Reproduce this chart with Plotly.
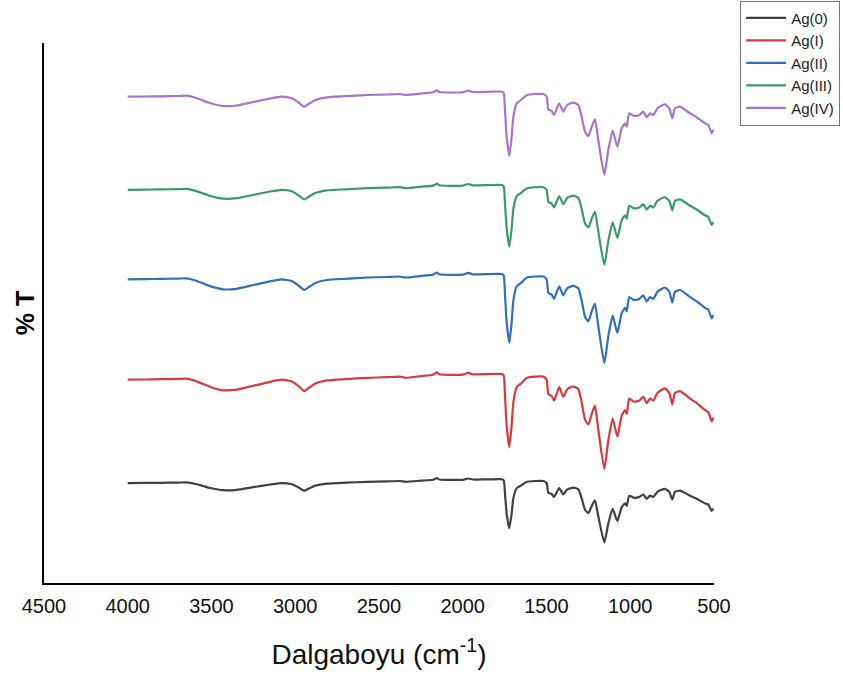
import plotly.graph_objects as go

wavenumber = [4000, 3900, 3800, 3700, 3650, 3600, 3550, 3500, 3430, 3350,
              3250, 3150, 3080, 3020, 2980, 2946, 2920, 2880, 2810, 2700,
              2570, 2450, 2375, 2340, 2250, 2177, 2155, 2140, 2000, 1967,
              1940, 1850, 1766, 1755, 1748, 1738, 1722, 1708, 1698, 1678,
              1652, 1616, 1519, 1499, 1489, 1469, 1455, 1424, 1400, 1376,
              1340, 1310, 1290, 1270, 1250, 1230, 1211, 1191, 1155, 1131,
              1105, 1077, 1051, 1031, 1021, 1006, 978, 946, 922, 902,
              882, 862, 838, 794, 767, 749, 733, 703, 643, 603,
              554, 534, 514, 505]

ag0 = [99.9, 100.1, 100.2, 100.4, 100.7, 99.3, 97.0, 94.7, 92.8, 93.2,
       95.9, 98.5, 99.9, 98.7, 95.5, 92.3, 94.4, 97.4, 99.4, 100.3,
       101.2, 101.6, 102.0, 101.2, 102.3, 103.2, 104.8, 103.5, 103.2, 104.5,
       103.5, 103.6, 103.7, 102.5, 89.8, 69.5, 54.8, 69.5, 84.7, 94.9,
       97.4, 101.2, 102.0, 99.9, 90.3, 89.0, 86.0, 94.9, 88.5, 93.6,
       95.3, 93.6, 84.7, 73.3, 70.0, 77.1, 82.7, 67.0, 40.4, 59.4,
       74.1, 61.9, 75.9, 79.7, 77.1, 87.3, 85.2, 86.0, 88.5, 84.2,
       87.3, 86.0, 91.1, 94.1, 91.1, 83.5, 91.1, 92.3, 87.3, 84.2,
       79.7, 78.4, 72.1, 74.6]

ag1 = [203.3, 203.5, 203.8, 204.1, 204.4, 202.4, 199.0, 195.5, 192.7, 193.3,
       197.3, 201.2, 203.3, 201.5, 196.7, 191.9, 195.0, 199.5, 202.6, 203.9,
       205.2, 205.8, 206.4, 205.2, 206.9, 208.3, 210.6, 208.7, 208.3, 210.1,
       208.7, 208.9, 209.0, 207.2, 188.1, 157.7, 135.7, 157.7, 180.5, 195.8,
       199.5, 205.2, 206.4, 203.3, 188.9, 187.0, 182.4, 195.8, 186.2, 193.8,
       196.5, 193.8, 180.5, 163.4, 158.5, 169.1, 177.5, 153.9, 114.0, 142.5,
       164.5, 146.3, 167.3, 173.0, 169.1, 184.4, 181.3, 182.4, 186.2, 179.8,
       184.4, 182.4, 190.1, 194.6, 190.1, 178.7, 190.1, 191.9, 184.4, 179.8,
       173.0, 171.0, 161.6, 165.3]

ag2 = [303.7, 303.9, 304.1, 304.4, 304.7, 302.8, 299.6, 296.4, 293.7, 294.2,
       298.0, 301.7, 303.7, 301.9, 297.4, 293.0, 295.8, 300.1, 303.0, 304.2,
       305.5, 306.0, 306.5, 305.5, 307.1, 308.4, 310.5, 308.7, 308.4, 310.1,
       308.7, 308.9, 309.0, 307.3, 289.4, 260.9, 240.2, 260.8, 282.3, 296.6,
       300.1, 305.5, 306.5, 303.7, 290.2, 288.4, 284.1, 296.6, 287.6, 294.8,
       297.2, 294.8, 282.3, 266.2, 261.6, 271.6, 279.5, 257.3, 219.9, 246.6,
       267.3, 250.2, 269.8, 275.2, 271.6, 285.9, 283.0, 284.1, 287.6, 281.6,
       285.9, 284.1, 291.2, 295.5, 291.2, 280.5, 291.2, 293.0, 285.9, 281.6,
       275.2, 273.4, 264.5, 268.0]

ag3 = [393.2, 393.4, 393.6, 393.9, 394.2, 392.4, 389.6, 386.7, 384.3, 384.8,
       388.1, 391.5, 393.2, 391.7, 387.6, 383.6, 386.2, 390.0, 392.6, 393.7,
       394.8, 395.3, 395.8, 394.8, 396.3, 397.4, 399.3, 397.7, 397.4, 399.0,
       397.7, 397.9, 398.0, 396.5, 380.4, 354.8, 336.3, 354.8, 374.0, 386.9,
       390.0, 394.8, 395.8, 393.2, 381.1, 379.5, 375.6, 386.9, 378.8, 385.2,
       387.4, 385.2, 374.0, 359.6, 355.5, 364.4, 371.5, 351.6, 318.0, 342.0,
       360.6, 345.2, 362.9, 367.7, 364.4, 377.3, 374.7, 375.6, 378.8, 373.4,
       377.3, 375.6, 382.1, 385.9, 382.1, 372.5, 382.1, 383.6, 377.3, 373.4,
       367.7, 366.0, 358.1, 361.2]

ag4 = [486.3, 486.5, 486.7, 487.0, 487.3, 485.5, 482.5, 479.5, 477.0, 477.5,
       481.0, 484.5, 486.3, 484.7, 480.5, 476.3, 479.0, 483.0, 485.7, 486.8,
       488.0, 488.5, 489.0, 488.0, 489.5, 490.7, 492.7, 491.0, 490.7, 492.3,
       491.0, 491.2, 491.3, 489.7, 473.0, 446.3, 427.0, 446.3, 466.3, 479.7,
       483.0, 488.0, 489.0, 486.3, 473.7, 472.0, 468.0, 479.7, 471.3, 478.0,
       480.3, 478.0, 466.3, 451.3, 447.0, 456.3, 463.7, 443.0, 408.0, 433.0,
       452.3, 436.3, 454.7, 459.7, 456.3, 469.7, 467.0, 468.0, 471.3, 465.7,
       469.7, 468.0, 474.7, 478.7, 474.7, 464.7, 474.7, 476.3, 469.7, 465.7,
       459.7, 458.0, 449.7, 453.0]

series_names = ["Ag(0)", "Ag(I)", "Ag(II)", "Ag(III)", "Ag(IV)"]
series_values = [ag0, ag1, ag2, ag3, ag4]
series_colors = ["#404040", "#d63a3e", "#2f6fbd", "#3a9a68", "#a575cc"]

x_ticks = [4500, 4000, 3500, 3000, 2500, 2000, 1500, 1000, 500]

fig = go.Figure()
for name, vals, col in zip(series_names, series_values, series_colors):
    fig.add_trace(go.Scatter(x=wavenumber, y=vals, mode="lines", name=name,
                             line=dict(color=col, width=2.2, shape="spline",
                                       smoothing=0.5)))

fig.update_layout(
    width=843, height=680,
    margin=dict(l=44, r=129, t=43, b=97, autoexpand=False),
    paper_bgcolor="white", plot_bgcolor="white",
    font=dict(family="Liberation Sans, Arial, sans-serif", color="black"),
    showlegend=True,
    legend=dict(x=1.039, y=1.0785, xanchor="left", yanchor="top",
                bordercolor="#777777", borderwidth=1,
                font=dict(size=15, color="#222222"),
                itemwidth=40, tracegroupgap=0,
                bgcolor="white"),
)
fig.update_xaxes(range=[4500, 500], tickvals=x_ticks,
                 ticktext=[str(t) for t in x_ticks],
                 showline=True, linecolor="black", linewidth=2,
                 showgrid=False, zeroline=False, ticks="",
                 ticklabelstandoff=4,
                 tickfont=dict(size=20, color="#111111"),
                 title=dict(text="Dalgaboyu (cm<sup>-1</sup>)",
                            font=dict(size=28, color="#111111"), standoff=28))
fig.update_yaxes(range=[0, 540], showline=True, linecolor="black", linewidth=2,
                 showgrid=False, zeroline=False, ticks="", showticklabels=False,
                 title=dict(text="<b>% T</b>", font=dict(size=25, color="black"),
                            standoff=0))

fig.write_html("out.html",
               config={"displayModeBar": False},
               post_script="document.body.style.margin='0px';"
                           "document.body.style.overflow='hidden';")
